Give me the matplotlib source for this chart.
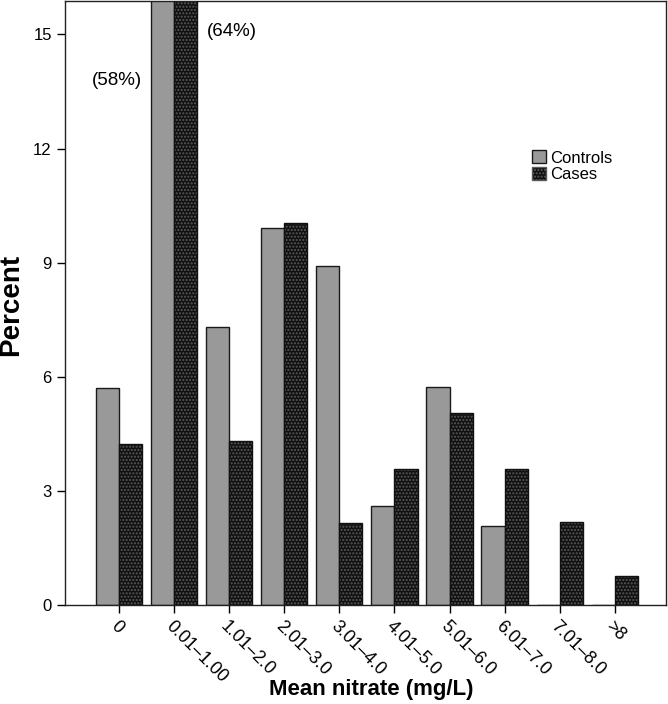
import matplotlib
matplotlib.use("Agg")
import matplotlib.pyplot as plt
import numpy as np
from matplotlib.patches import Patch

plt.rcParams['font.family'] = ['Liberation Sans', 'DejaVu Sans']

categories = ["0", "0.01\u20131.00", "1.01\u20132.0", "2.01\u20133.0", "3.01\u20134.0",
              "4.01\u20135.0", "5.01\u20136.0", "6.01\u20137.0", "7.01\u20138.0", ">8"]
controls = [5.71, 58, 7.32, 9.92, 8.9, 2.6, 5.72, 2.07, 0, 0]
cases = [4.24, 64, 4.3, 10.05, 2.15, 3.57, 5.04, 3.57, 2.18, 0.76]
yticks = [0, 3, 6, 9, 12, 15]

fig = plt.figure(figsize=(6.68, 7.04), dpi=100)
ax = fig.add_axes([0.0973, 0.1406, 0.8997, 0.858])

x = np.arange(len(categories))
w = 0.42
ax.bar(x - w/2, controls, width=w, color='#999999', edgecolor='#1a1a1a', linewidth=1.0, zorder=2)
ax.bar(x + w/2, cases, width=w, color='#111111', edgecolor='#5a5a5a', hatch='.....', linewidth=0, zorder=2)
ax.bar(x + w/2, cases, width=w, fill=False, edgecolor='#111111', linewidth=1.0, zorder=3)

ax.set_xlim(-0.98, 9.93)
ax.set_ylim(0, 15.88)
ax.set_yticks(yticks)
ax.set_xticks(x)
ax.set_xticklabels(categories, rotation=-45, ha='left', va='top', rotation_mode='anchor', fontsize=12.8)
ax.tick_params(axis='y', labelsize=12, length=6, width=1, direction='out')
ax.tick_params(axis='x', length=6, width=1, direction='out')
for s in ax.spines.values():
    s.set_linewidth(1.0)
    s.set_color('#222222')

ax.text(-0.03, 13.8, "(58%)", ha='center', va='center', fontsize=13.5)
ax.text(2.05, 15.07, "(64%)", ha='center', va='center', fontsize=13.5)

fig.text(11.5/668, 1 - 304.5/704, "Percent", rotation=90, ha='center', va='center',
         fontsize=20, fontweight='bold')
fig.text(371/668, 1 - 690/704, "Mean nitrate (mg/L)", ha='center', va='center',
         fontsize=16, fontweight='bold')

handles = [Patch(facecolor='#999999', edgecolor='#1a1a1a', label='Controls'),
           Patch(facecolor='#111111', edgecolor='#5a5a5a', hatch='.....', label='Cases')]
ax.legend(handles=handles, loc='upper left', bbox_to_anchor=(0.758, 0.772), frameon=False,
          fontsize=12, handlelength=0.8, handleheight=0.8, handletextpad=0.3,
          labelspacing=0.1, borderpad=0.2)

fig.savefig("out.png", dpi=100)
